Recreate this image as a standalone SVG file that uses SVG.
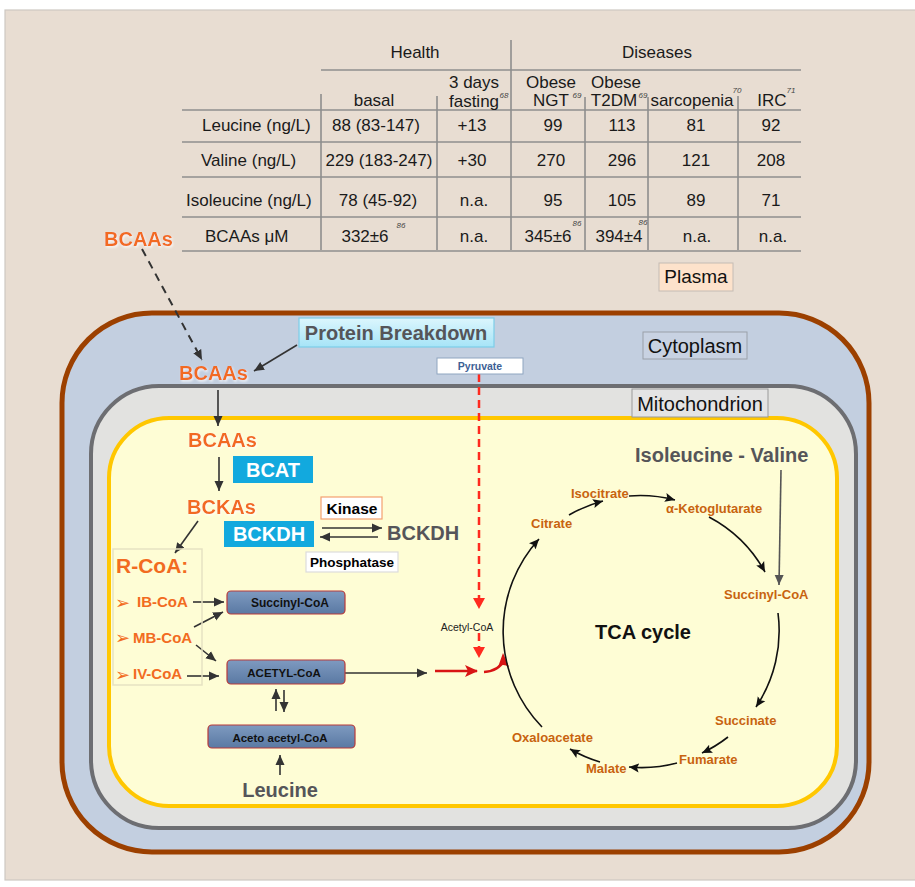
<svg xmlns="http://www.w3.org/2000/svg" width="915" height="887" viewBox="0 0 915 887">
<defs>
<style>
text{font-family:"Liberation Sans",Arial,sans-serif}
.tb{font-size:17px;fill:#1a1a1a;text-anchor:middle}
.tl{font-size:17px;fill:#1a1a1a}
.sup{font-size:8px;font-style:italic;fill:#444;text-anchor:middle}
.grid{stroke:#8e8e8e;stroke-width:1.6;fill:none}
.or{font-weight:bold;fill:#f26b21;font-size:20px;filter:url(#glow)}
.orr{font-weight:bold;fill:#f26b21;font-size:15px}
.bul{font-family:"DejaVu Sans",sans-serif;fill:#f26b21;font-size:18px}
.gr{font-weight:bold;fill:#555559;font-size:20px}
.tca{font-weight:bold;fill:#c8630f;font-size:13px}
.cyan{fill:#12a9de}
.wt{font-weight:bold;fill:#fff;font-size:20px;text-anchor:middle}
.steel{fill:url(#steel);stroke:#b83a3a;stroke-width:1.2}
.st{font-weight:bold;fill:#111;font-size:11.5px;text-anchor:middle}
.lbl{font-size:20px;fill:#111;text-anchor:middle}
.c{stroke:#333;stroke-width:1.6;fill:none;marker-end:url(#ad)}
.k{stroke:#111;stroke-width:1.6;fill:none;marker-end:url(#ak)}
.r{stroke:#ff2a1f;stroke-width:2.5;fill:none;stroke-dasharray:8 5;marker-end:url(#ar)}
</style>
<marker id="ad" markerUnits="userSpaceOnUse" markerWidth="10" markerHeight="10" refX="10" refY="5" orient="auto"><path d="M0,0.5 L10,5 L0,9.5 z" fill="#333"/></marker>
<marker id="ak" markerUnits="userSpaceOnUse" markerWidth="11" markerHeight="10" refX="10" refY="5" orient="auto"><path d="M0,0.5 L10,5 L0,9.5 L2,5 z" fill="#111"/></marker>
<marker id="ag" markerUnits="userSpaceOnUse" markerWidth="10" markerHeight="10" refX="10" refY="5" orient="auto"><path d="M0,0.5 L10,5 L0,9.5 z" fill="#555"/></marker>
<marker id="ar" markerUnits="userSpaceOnUse" markerWidth="12" markerHeight="12" refX="10" refY="6" orient="auto"><path d="M0,0 L11,6 L0,12 z" fill="#ff2a1f"/></marker>
<marker id="ar2" markerUnits="userSpaceOnUse" markerWidth="14" markerHeight="12" refX="12" refY="6" orient="auto"><path d="M0,0 L13,6 L0,12 L3,6 z" fill="#d81414"/></marker>
<linearGradient id="steel" x1="0" y1="0" x2="0" y2="1"><stop offset="0" stop-color="#7e9ac0"/><stop offset="1" stop-color="#5a79a3"/></linearGradient>
<linearGradient id="pb" x1="0" y1="0" x2="0" y2="1"><stop offset="0" stop-color="#dcf6fd"/><stop offset="1" stop-color="#a6e4f7"/></linearGradient>
<filter id="glow" x="-10%" y="-20%" width="130%" height="150%"><feDropShadow dx="1" dy="1.5" stdDeviation="1" flood-color="#fff" flood-opacity="0.8"/></filter>
</defs>

<rect x="0" y="0" width="915" height="887" fill="#fff"/>
<rect x="5" y="10" width="912" height="870" fill="#e8ddd2" stroke="#cdc8c2" stroke-width="1.2"/>

<g id="cell">
<rect x="62" y="313" width="807" height="539" rx="90" ry="90" fill="#c3cfe0" stroke="#9c4000" stroke-width="5"/>
<rect x="91" y="386" width="765" height="442" rx="68" ry="68" fill="#e2e2e0" stroke="#6d6e72" stroke-width="4"/>
<rect x="109" y="418" width="728" height="388" rx="60" ry="60" fill="#fefdd5" stroke="#ffc700" stroke-width="4"/>
</g>

<g id="plasma-table">
<path class="grid" d="M511,40 V250 M321,70 H801 M321,94 V250 M437,96 V250 M585,97 V250 M648,97 V250 M738,96 V250 M182,110 H801 M182,142 H801 M182,177 H801 M182,217 H801 M182,251 H801"/>
<text class="tb" x="415" y="58">Health</text>
<text class="tb" x="657" y="58">Diseases</text>
<text class="tb" x="374" y="106">basal</text>
<text class="tb" x="474" y="88">3 days</text>
<text class="tb" x="474" y="107">fasting</text><text class="sup" x="504" y="98">68</text>
<text class="tb" x="551" y="88">Obese</text>
<text class="tb" x="551" y="106">NGT</text><text class="sup" x="577" y="98">69</text>
<text class="tb" x="616" y="88">Obese</text>
<text class="tb" x="614" y="106">T2DM</text><text class="sup" x="643" y="98">69</text>
<text class="tb" x="692" y="106">sarcopenia</text><text class="sup" x="737" y="93">70</text>
<text class="tb" x="772" y="106">IRC</text><text class="sup" x="791" y="93">71</text>
<text class="tl" x="202" y="131">Leucine (ng/L)</text>
<text class="tl" x="201" y="166">Valine (ng/L)</text>
<text class="tl" x="186" y="206">Isoleucine (ng/L)</text>
<text class="tl" x="205" y="242">BCAAs μM</text>
<text class="tb" x="376" y="131">88 (83-147)</text>
<text class="tb" x="379" y="166">229 (183-247)</text>
<text class="tb" x="378" y="206">78 (45-92)</text>
<text class="tb" x="365" y="242">332±6</text><text class="sup" x="401" y="228">86</text>
<text class="tb" x="472" y="131">+13</text>
<text class="tb" x="472" y="166">+30</text>
<text class="tb" x="474" y="206">n.a.</text>
<text class="tb" x="474" y="242">n.a.</text>
<text class="tb" x="553" y="131">99</text>
<text class="tb" x="551" y="166">270</text>
<text class="tb" x="553" y="206">95</text>
<text class="tb" x="548" y="242">345±6</text><text class="sup" x="577" y="226">86</text>
<text class="tb" x="622" y="131">113</text>
<text class="tb" x="622" y="166">296</text>
<text class="tb" x="622" y="206">105</text>
<text class="tb" x="619" y="242">394±4</text><text class="sup" x="643" y="225">86</text>
<text class="tb" x="696" y="131">81</text>
<text class="tb" x="696" y="166">121</text>
<text class="tb" x="696" y="206">89</text>
<text class="tb" x="697" y="242">n.a.</text>
<text class="tb" x="771" y="131">92</text>
<text class="tb" x="771" y="166">208</text>
<text class="tb" x="771" y="206">71</text>
<text class="tb" x="773" y="242">n.a.</text>
</g>

<g id="plasma-label"><rect x="659" y="263" width="74" height="28" fill="#fde2cb" stroke="#c4bcb4"/><text class="lbl" x="696" y="283" style="font-size:19px">Plasma</text></g>
<g id="cytoplasm-label"><rect x="643" y="332" width="104" height="27" fill="#c8d2e2" stroke="#9aa0a8"/><text class="lbl" x="695" y="353">Cytoplasm</text></g>
<g id="mitochondrion-label"><rect x="632" y="389" width="136" height="28" fill="#e4e4e4" stroke="#9a9a9a"/><text class="lbl" x="700" y="411">Mitochondrion</text></g>

<g id="connectors">
<line x1="142" y1="249" x2="202" y2="360" stroke="#333" stroke-width="2" stroke-dasharray="8 6" marker-end="url(#ad)"/>
<line class="c" x1="297" y1="345" x2="254" y2="371"/>
<line class="c" x1="218" y1="390" x2="218" y2="426"/>
<line class="c" x1="219" y1="457" x2="219" y2="491"/>
<line class="c" x1="322" y1="528" x2="382" y2="528"/>
<line class="c" x1="378" y1="537" x2="320" y2="537"/>
<line class="c" x1="198" y1="521" x2="175" y2="553"/>
<line class="c" x1="193" y1="602" x2="224" y2="602"/>
<line class="c" x1="194" y1="627" x2="223" y2="612"/>
<line class="c" x1="196" y1="645" x2="216" y2="661"/>
<line class="c" x1="187" y1="676" x2="219" y2="676"/>
<line class="c" x1="345" y1="673" x2="427" y2="673"/>
<line class="c" x1="276" y1="711" x2="276" y2="689"/>
<line class="c" x1="284" y1="690" x2="284" y2="712"/>
<line class="c" x1="280" y1="775" x2="280" y2="755"/>
<line class="r" x1="479" y1="374" x2="479" y2="608"/>
<line class="r" x1="479" y1="633" x2="479" y2="657"/>
<line x1="435" y1="671" x2="477" y2="671" stroke="#d81414" stroke-width="2.5" marker-end="url(#ar2)"/>
<path d="M484,672 Q499,671 504,660" stroke="#d81414" stroke-width="2.5" fill="none"/>
<path d="M498,667 L503,653 L509,667 Q503,663 498,667 z" fill="#d81414"/>
<line x1="781" y1="470" x2="779" y2="585" stroke="#555" stroke-width="1.6" marker-end="url(#ag)"/>
<path class="k" d="M542,727 A137,137 0 0 1 539,539"/>
<path class="k" d="M569,515 A137,137 0 0 1 603,501"/>
<path class="k" d="M629,496 A137,137 0 0 1 675,500"/>
<path class="k" d="M709,517 A137,137 0 0 1 765,572"/>
<path class="k" d="M778,613 A137,137 0 0 1 756,707"/>
<path class="k" d="M728,737 A137,137 0 0 1 702,753"/>
<path class="k" d="M677,763 A137,137 0 0 1 629,767"/>
<path class="k" d="M600,762 A137,137 0 0 1 570,749"/>
</g>

<g id="bcaas-plasma"><text class="or" x="104" y="246">BCAAs</text></g>
<g id="protein-breakdown"><rect x="299" y="318" width="195" height="29" fill="url(#pb)" stroke="#7ccde8" stroke-width="1.2"/><text class="gr" x="396" y="340" text-anchor="middle">Protein Breakdown</text></g>
<g id="bcaas-cytoplasm"><text class="or" x="179" y="380">BCAAs</text></g>
<g id="pyruvate"><rect x="437" y="358" width="86" height="16" fill="#fff" stroke="#8fa6c0"/><text x="480" y="370" text-anchor="middle" style="font-size:10.5px;font-weight:bold;fill:#3d5f95">Pyruvate</text></g>
<g id="bcaas-mito"><text class="or" x="188" y="447">BCAAs</text></g>
<g id="bcat"><rect class="cyan" x="233" y="456" width="80" height="27"/><text class="wt" x="273" y="477">BCAT</text></g>
<g id="bckas"><text class="or" x="187" y="514">BCKAs</text></g>
<g id="kinase"><rect x="321" y="497" width="61" height="22" fill="#fff" stroke="#f4a070" stroke-width="1.2"/><text x="352" y="514" text-anchor="middle" style="font-size:15.5px;font-weight:bold;fill:#000">Kinase</text></g>
<g id="bckdh-active"><rect class="cyan" x="224" y="521" width="90" height="26"/><text class="wt" x="269" y="541">BCKDH</text></g>
<g id="bckdh-inactive"><text class="gr" x="387" y="540">BCKDH</text></g>
<g id="phosphatase"><rect x="306" y="552" width="92" height="20" fill="#fff" stroke="#dcdcdc" stroke-width="1.2"/><text x="352" y="567" text-anchor="middle" style="font-size:13.5px;font-weight:bold;fill:#000">Phosphatase</text></g>
<g id="r-coa">
<rect x="113" y="549" width="89" height="136" fill="none" stroke="#e6e2c2" stroke-width="1.5"/>
<text x="116" y="573" style="font-weight:bold;fill:#f26b21;font-size:21px">R-CoA:</text>
<text class="bul" x="115" y="609">➢</text><text class="orr" x="137" y="607">IB-CoA</text>
<text class="bul" x="115" y="644">➢</text><text class="orr" x="133" y="643">MB-CoA</text>
<text class="bul" x="115" y="681">➢</text><text class="orr" x="133" y="679">IV-CoA</text>
</g>
<g id="succinyl-coa-box"><rect class="steel" x="227" y="591" width="118" height="23" rx="4"/><text class="st" x="290" y="607" style="font-size:12px">Succinyl-CoA</text></g>
<g id="acetyl-coa-box"><rect class="steel" x="227" y="660" width="118" height="24" rx="4"/><text class="st" x="284" y="677">ACETYL-CoA</text></g>
<g id="acetoacetyl-coa-box"><rect class="steel" x="208" y="725" width="147" height="23" rx="4"/><text class="st" x="280" y="742">Aceto acetyl-CoA</text></g>
<g id="leucine"><text class="gr" x="280" y="797" text-anchor="middle">Leucine</text></g>
<g id="acetyl-coa-label"><text x="467" y="631" text-anchor="middle" style="font-size:10.5px;fill:#222">Acetyl-CoA</text></g>
<g id="isoleucine-valine"><text class="gr" x="635" y="462">Isoleucine - Valine</text></g>
<g id="tca">
<text x="643" y="639" text-anchor="middle" style="font-size:20px;font-weight:bold;fill:#111">TCA cycle</text>
<text class="tca" x="571" y="498">Isocitrate</text>
<text class="tca" x="666" y="513">α-Ketoglutarate</text>
<text class="tca" x="531" y="528">Citrate</text>
<text class="tca" x="724" y="599">Succinyl-CoA</text>
<text class="tca" x="715" y="725">Succinate</text>
<text class="tca" x="679" y="764">Fumarate</text>
<text class="tca" x="586" y="773">Malate</text>
<text class="tca" x="512" y="742">Oxaloacetate</text>
</g>
</svg>
